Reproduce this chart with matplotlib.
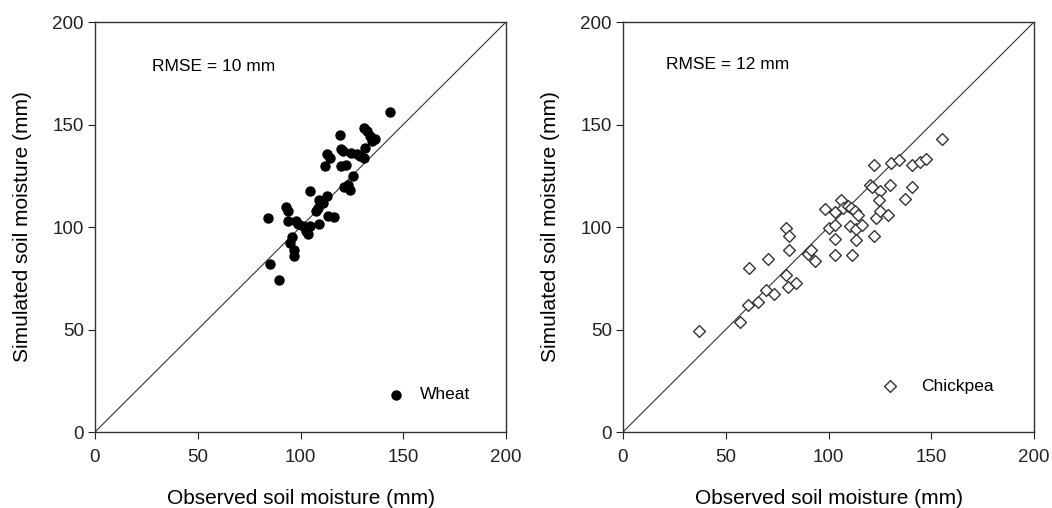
import matplotlib
matplotlib.use("Agg")
import matplotlib.pyplot as plt

plt.rcParams["font.family"] = ["Liberation Sans", "DejaVu Sans"]

# Wheat: observed vs simulated soil moisture (mm)
wheat_obs = [84, 85, 89.5, 93, 94, 94, 95, 96, 97, 97, 98, 99, 101, 102.6, 103.5,
             104.8, 104.8, 109.2, 107.6, 108.4, 109.2, 110.9, 111.7, 113, 113,
             114.5, 113.3, 116.3, 119.1, 119.9, 120.7, 119.9, 121.9, 121.2, 123.2,
             124.3, 124.8, 127.3, 129, 125.7, 131, 131.4, 131, 132.2, 133.9, 134.7,
             136.3, 143.4]
wheat_sim = [104.5, 82, 74, 110, 108, 103, 92, 95, 89, 86, 103, 101.7, 100.4, 98, 96.7,
             100.4, 117.8, 101.5, 107.7, 109.4, 113.4, 111.8, 129.7, 115, 135.4,
             133.8, 105.3, 104.8, 144.8, 138.3, 137, 129.7, 130.2, 119.4, 120.7,
             118.3, 135.9, 135.4, 134.6, 124.8, 133.8, 138.6, 148.4, 146.8, 144.3,
             141.9, 143, 156.2]

# Chickpea
chick_obs = [36.9, 56.8, 60.6, 65.7, 61.4, 70.6, 69.8, 73.4, 79.1, 80.7, 80.7, 79.1,
             80.1, 84, 89.8, 91.7, 93.3, 98.2, 100.3, 103.4, 103.4, 106, 103.4, 103.4,
             107.1, 109.3, 110.9, 110.4, 111.2, 113.6, 113.6, 113.1, 114.4, 116.1,
             122.2, 120.1, 121.4, 123.1, 122.1, 125, 124.5, 125, 128.9, 130.1, 130.6,
             134.2, 137.4, 140.4, 140.4, 144.5, 147.3, 155]
chick_sim = [49.5, 53.7, 61.8, 63.5, 80.1, 84.5, 69.5, 67.4, 99.6, 95.8, 89, 76.8,
             70.8, 72.7, 86.6, 89, 83.6, 109, 99.6, 100.9, 107.4, 113.1, 94.4, 86.2,
             109.4, 110.2, 109.4, 100.7, 86.2, 99.1, 93.9, 107.7, 106.1, 100.9,
             130.2, 120.7, 119.4, 104.5, 95.5, 117.8, 113.4, 108, 106.1, 120.7, 131.3,
             132.5, 113.6, 119.4, 130.2, 131.6, 133.3, 142.7]

ticks = [0, 50, 100, 150, 200]

fig = plt.figure(figsize=(10.52, 5.08), dpi=100)
ax1 = fig.add_axes([0.0903, 0.1496, 0.3907, 0.807])
ax2 = fig.add_axes([0.5922, 0.1496, 0.3907, 0.807])

dot = dict(s=42, color="black", zorder=3)
diamond = dict(s=36, marker="D", facecolors="white", edgecolors="#333333",
               linewidths=1.0, zorder=3)

ax1.scatter(wheat_obs, wheat_sim, **dot)
ax2.scatter(chick_obs, chick_sim, **diamond)

# legend-like markers inside each panel
ax1.scatter([146.5], [18.2], **dot)
ax1.text(158, 18.2, "Wheat", fontsize=12.5, va="center")
ax2.scatter([129.9], [22.3], **diamond)
ax2.text(145, 22.3, "Chickpea", fontsize=12.5, va="center")

ax1.text(27.5, 178.5, "RMSE = 10 mm", fontsize=12.5, va="center")
ax2.text(21, 179.3, "RMSE = 12 mm", fontsize=12.5, va="center")

for ax in (ax1, ax2):
    ax.plot([0, 200], [0, 200], color="#333333", linewidth=0.8, zorder=2)
    ax.set_xlim(0, 200)
    ax.set_ylim(0, 200)
    ax.set_xticks(ticks)
    ax.set_yticks(ticks)
    ax.tick_params(direction="out", length=5, labelsize=13.5, colors="#222222")
    ax.tick_params(axis="x", pad=7)
    ax.tick_params(axis="y", pad=3)
    for sp in ax.spines.values():
        sp.set_color("#333333")
        sp.set_linewidth(1.0)
    ax.set_xlabel("Observed soil moisture (mm)", fontsize=15, labelpad=17)
    ax.set_ylabel("Simulated soil moisture (mm)", fontsize=15, labelpad=15)

fig.savefig("out.png", dpi=100)
